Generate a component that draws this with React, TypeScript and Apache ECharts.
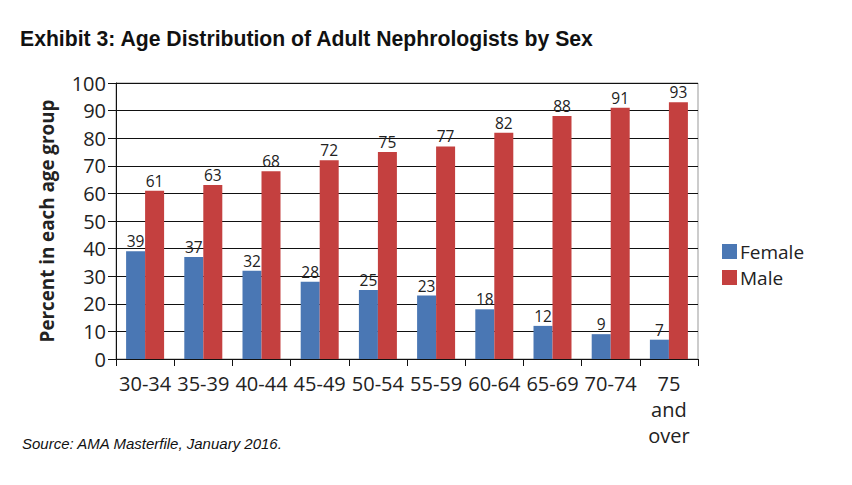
import React, { useEffect, useRef } from "react";
import * as echarts from "echarts";

const categories = ["30-34", "35-39", "40-44", "45-49", "50-54", "55-59", "60-64", "65-69", "70-74", "75\nand\nover"];
const female = [39, 37, 32, 28, 25, 23, 18, 12, 9, 7];
const male = [61, 63, 68, 72, 75, 77, 82, 88, 91, 93];
const seriesNames = ["Female", "Male"];
const titleText = "Exhibit 3: Age Distribution of Adult Nephrologists by Sex";
const sourceText = "Source: AMA Masterfile, January 2016.";
const yAxisName = "Percent in each age group";

const FONT = "'Open Sans', 'Noto Sans', sans-serif";

export default function App() {
  const ref = useRef<HTMLDivElement>(null);
  useEffect(() => {
    if (!ref.current) return;
    const chart = echarts.init(ref.current, null, { renderer: "svg" });
    const labelStyle = { show: true, position: "top", fontSize: 15.5, color: "#222", fontFamily: FONT, distance: 2 };
    chart.setOption({
      animation: false,
      backgroundColor: "#fff",
      title: [
        {
          text: titleText,
          left: 15,
          top: 23,
          textStyle: { fontFamily: "'Liberation Sans', Arial, sans-serif", fontWeight: "bold", fontSize: 21.2, color: "#111" },
        },
        {
          text: sourceText,
          left: 17,
          top: 431,
          textStyle: { fontFamily: "'Liberation Sans', Arial, sans-serif", fontStyle: "italic", fontWeight: "normal", fontSize: 15, color: "#111" },
        },
      ],
      legend: {
        orient: "vertical",
        left: 722,
        top: 242,
        padding: 0,
        itemWidth: 15,
        itemHeight: 15,
        itemGap: 7,
        icon: "rect",
        textStyle: { fontSize: 19, fontFamily: FONT, color: "#222", padding: [0, 0, 0, -2] },
        data: seriesNames,
      },
      grid: {
        left: 116,
        right: 154,
        top: 83,
        bottom: 126,
        show: true,
        borderColor: "#999",
        borderWidth: 1,
      },
      xAxis: {
        type: "category",
        data: categories,
        axisLine: { lineStyle: { color: "#111", width: 1 } },
        axisTick: { show: true, length: 7, lineStyle: { color: "#111" } },
        axisLabel: { interval: 0, fontSize: 20, fontFamily: FONT, color: "#222", margin: 11, lineHeight: 26 },
      },
      yAxis: {
        type: "value",
        min: 0,
        max: 100,
        interval: 10,
        name: yAxisName,
        nameLocation: "middle",
        nameGap: 60,
        nameTextStyle: { fontSize: 18.8, fontWeight: "bold", fontFamily: FONT, color: "#222" },
        axisLine: { show: true, lineStyle: { color: "#111", width: 1 } },
        axisTick: { show: true, length: 8, lineStyle: { color: "#111" } },
        axisLabel: { fontSize: 20, fontFamily: FONT, color: "#222", margin: 10 },
        splitLine: { show: true, lineStyle: { color: "#111", width: 1 } },
      },
      series: [
        {
          name: seriesNames[0],
          type: "bar",
          data: female,
          barWidth: 19,
          barGap: "0%",
          itemStyle: { color: "#4A77B4" },
          label: labelStyle,
        },
        {
          name: seriesNames[1],
          type: "bar",
          data: male,
          barWidth: 19,
          barGap: "0%",
          itemStyle: { color: "#C4403F" },
          label: labelStyle,
        },
      ],
    });
    return () => chart.dispose();
  }, []);
  return <div ref={ref} style={{ position: "absolute", left: 0, top: 0, width: 852, height: 485 }} />;
}
